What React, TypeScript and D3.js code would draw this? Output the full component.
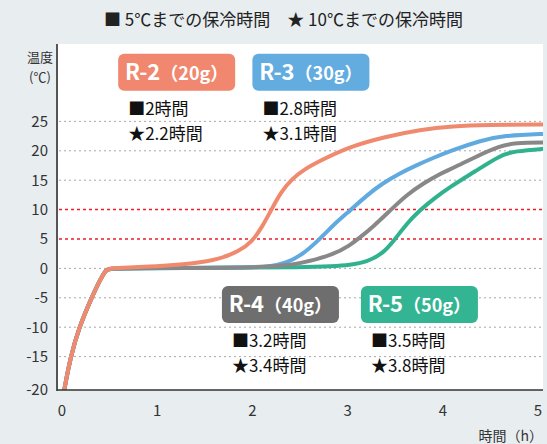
import * as d3 from "d3"

type Pt = [number, number]

// shared cool-down segment (from -20 ℃ up to 0 ℃)
const coolDown: Pt[] = [[0.02, -21], [0.09, -15], [0.18, -10], [0.31, -5], [0.41, -1.6], [0.47, -0.1], [0.52, 0.05]]

const r2: Pt[] = [...coolDown, [1.0, 0.35], [1.4, 0.8], [1.65, 1.6], [1.85, 2.8], [2.0, 4.6], [2.1, 7], [2.2, 10], [2.3, 13], [2.42, 15.3], [2.55, 16.9], [2.7, 18.2], [3.0, 20.6], [3.4, 22.4], [3.76, 23.6], [4.11, 24.2], [4.46, 24.4], [5.1, 24.5]]
const r3: Pt[] = [...coolDown, [2.0, 0.1], [2.2, 0.35], [2.35, 0.95], [2.5, 2.0], [2.71, 5], [2.85, 7.4], [3.03, 9.9], [3.2, 12.4], [3.37, 14.5], [3.55, 16.2], [3.73, 17.6], [3.9, 18.8], [4.1, 20.1], [4.39, 21.7], [4.63, 22.6], [5.1, 22.9]]
const r4: Pt[] = [...coolDown, [2.2, 0.1], [2.5, 0.8], [2.85, 2.3], [3.03, 4], [3.11, 5], [3.27, 7.1], [3.45, 9.9], [3.62, 12.5], [3.8, 14.5], [3.97, 16.1], [4.1, 17.0], [4.36, 19.1], [4.6, 20.8], [4.75, 21.35], [5.1, 21.4]]
const r5: Pt[] = [...coolDown, [2.8, 0.15], [3.03, 0.6], [3.2, 1.1], [3.37, 2.5], [3.5, 5], [3.62, 7.6], [3.76, 9.9], [3.9, 11.8], [4.08, 13.9], [4.34, 16.5], [4.6, 19.2], [4.75, 19.95], [5.1, 20.4]]

const seriesNames = ["R-5", "R-3", "R-4", "R-2"]
const seriesData = [r5, r3, r4, r2]
const lineColors = ["#31b28f", "#60aadf", "#888888", "#f08a6f"]

const labelNames = ["R-2", "R-3", "R-4", "R-5"]
const labelWeights = ["（20g）", "（30g）", "（40g）", "（50g）"]
const labelColors = ["#f0876e", "#62acdf", "#6e6e6e", "#33b593"]
const hours5 = ["2", "2.8", "3.2", "3.5"]
const hours10 = ["2.2", "3.1", "3.4", "3.8"]
// where each label block sits: [time, temperature] of the box's top-left corner
const labelAnchors: Pt[] = [[0.59, 36.5], [2.0, 36.5], [1.68, -3.0], [3.14, -3.0]]

const xTicks = [0, 1, 2, 3, 4, 5]
const yTicks = [25, 20, 15, 10, 5, 0, -5, -10, -15, -20]
const redLines = [10, 5]

const W = 547
const H = 444
const plot = { left: 57, right: 543, top: 44, bottom: 390 }
const FONT = "'Noto Sans CJK JP', 'Noto Sans', sans-serif"

export default function App() {
  const x = d3.scaleLinear().domain([0, 5]).range([62, 538])
  const y = d3.scaleLinear().domain([0, 25]).range([268.4, 121.4])

  const line = d3.line<Pt>()
    .x(d => x(d[0]))
    .y(d => y(d[1]))
    .curve(d3.curveBasis)

  return (
    <svg width={W} height={H} style={{ position: "absolute", left: 0, top: 0, fontFamily: FONT }}>
      <rect width={W} height={H} fill="#e8edf0" />
      <rect x={plot.left} y={plot.top} width={plot.right - plot.left} height={plot.bottom - plot.top} fill="#ffffff" />

      {/* legend */}
      <text x={W / 2 + 10} y={26} fontSize={17} textAnchor="middle" fill="#222">
        ■ 5℃までの保冷時間　★ 10℃までの保冷時間
      </text>

      {/* grid */}
      {yTicks.filter(t => t !== -20).map(t => (
        <line key={t} x1={plot.left + 2} x2={plot.right} y1={y(t)} y2={y(t)}
          stroke={redLines.includes(t) ? "#ea1c2c" : "#a8a8a8"}
          strokeWidth={redLines.includes(t) ? 1.5 : 1}
          strokeDasharray={redLines.includes(t) ? "3,3" : "2,3"} />
      ))}

      {/* y labels */}
      {yTicks.map(t => (
        <text key={t} x={48} y={t === -20 ? plot.bottom : y(t)} dy="0.36em" fontSize={15} textAnchor="end" fill="#333">{t}</text>
      ))}
      <text x={40} y={62} fontSize={13} textAnchor="middle" fill="#333">温度</text>
      <text x={40} y={82} fontSize={13} textAnchor="middle" fill="#333">(℃)</text>

      {/* x labels */}
      {xTicks.map(t => (
        <text key={t} x={x(t)} y={416} fontSize={15} textAnchor="middle" fill="#333">{t}</text>
      ))}
      <text x={543} y={441} fontSize={14} textAnchor="end" fill="#333">時間（h）</text>

      <defs>
        <clipPath id="plotClip">
          <rect x={plot.left} y={plot.top} width={plot.right - plot.left} height={plot.bottom - plot.top} />
        </clipPath>
      </defs>
      <g clipPath="url(#plotClip)">
        {seriesData.map((d, i) => (
          <path key={seriesNames[i]} d={line(d) ?? ""} fill="none" stroke={lineColors[i]} strokeWidth={4} strokeLinejoin="round" />
        ))}
      </g>

      {/* axes */}
      <line x1={plot.left} x2={plot.left} y1={plot.top} y2={plot.bottom + 1} stroke="#555" strokeWidth={2} />
      <line x1={plot.left} x2={plot.right} y1={plot.bottom} y2={plot.bottom} stroke="#333" strokeWidth={1.5} />

      {/* series labels */}
      {labelNames.map((n, i) => {
        const bx = x(labelAnchors[i][0])
        const by = y(labelAnchors[i][1])
        return (
          <g key={n} transform={`translate(${bx},${by})`}>
            <rect width={117} height={37} rx={6} fill={labelColors[i]} />
            <text x={58.5} y={26} textAnchor="middle" fill="#fff" fontWeight="bold">
              <tspan fontSize={22}>{n}</tspan>
              <tspan fontSize={18}>{labelWeights[i]}</tspan>
            </text>
            <text x={10} y={61} fontSize={17} fill="#111">■{hours5[i]}時間</text>
            <text x={10} y={86} fontSize={17} fill="#111">★{hours10[i]}時間</text>
          </g>
        )
      })}
    </svg>
  )
}
